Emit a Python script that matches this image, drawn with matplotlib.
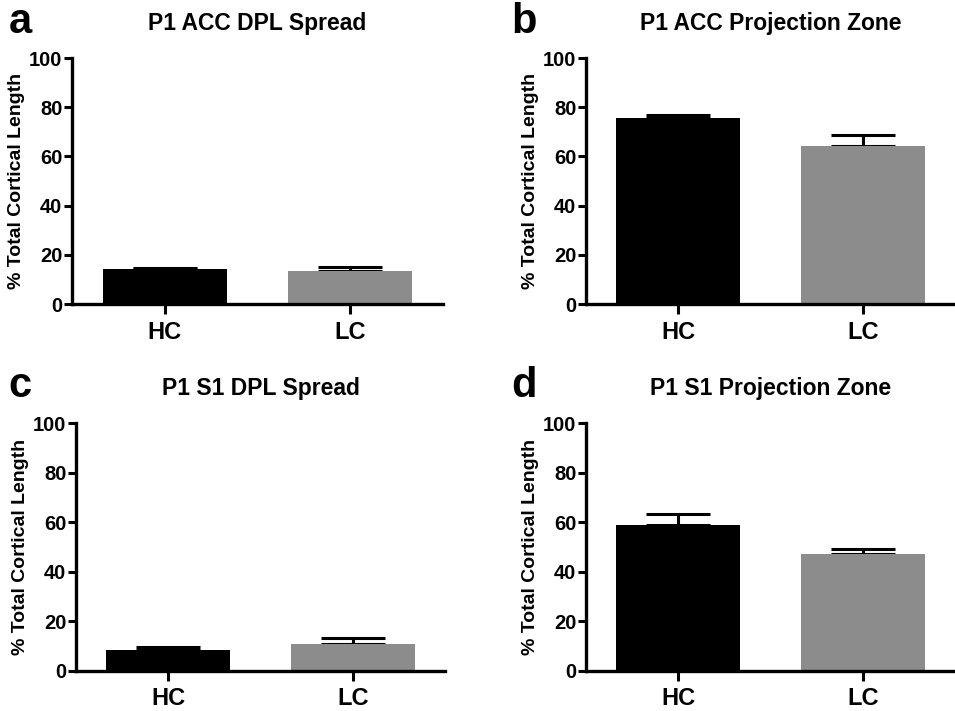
import matplotlib
matplotlib.use("Agg")
import matplotlib.pyplot as plt
import numpy as np

plt.rcParams['font.family'] = ['Liberation Sans', 'DejaVu Sans']
plt.rcParams['font.weight'] = 'bold'

groups = ['HC', 'LC']
titles = ['P1 ACC DPL Spread', 'P1 ACC Projection Zone',
          'P1 S1 DPL Spread', 'P1 S1 Projection Zone']
letters = ['a', 'b', 'c', 'd']
means = [[14.2, 13.5], [75.6, 64.1], [8.4, 10.8], [58.8, 47.2]]
sems = [[0.3, 1.7], [1.3, 4.8], [1.1, 2.3], [4.4, 2.1]]
bar_colors = ['black', '#8c8c8c']
ylabel = '% Total Cortical Length'

fig = plt.figure(figsize=(9.55, 7.11), dpi=100)
# axes positions in figure fraction [left, bottom, width, height]
boxes = [[0.0754, 0.5724, 0.3885, 0.3459],
         [0.6136, 0.5724, 0.3864, 0.3459],
         [0.0796, 0.0567, 0.3866, 0.3480],
         [0.6136, 0.0567, 0.3864, 0.3480]]
letter_pos = [(0.009, 0.9536), (0.535, 0.9536), (0.009, 0.4416), (0.535, 0.4416)]

for i in range(4):
    ax = fig.add_axes(boxes[i])
    x = np.arange(len(groups))
    ax.bar(x, means[i], width=0.67, color=bar_colors, zorder=2)
    for j in range(len(groups)):
        ax.errorbar(x[j], means[i][j], yerr=[[0], [sems[i][j]]], fmt='none',
                    ecolor='black', elinewidth=2.2, capsize=23, capthick=2.2, zorder=1)
    ax.set_xlim(-0.5, 1.5)
    ax.set_ylim(0, 100)
    ax.set_yticks([0, 20, 40, 60, 80, 100])
    ax.set_xticks(x)
    ax.set_xticklabels(groups, fontsize=17, fontweight='bold')
    for t in ax.get_yticklabels():
        t.set_fontsize(14.5)
        t.set_fontweight('bold')
    ax.tick_params(axis='both', direction='out', width=2.2, length=6, pad=1)
    ax.tick_params(axis='x', length=7, pad=5)
    for s in ['top', 'right']:
        ax.spines[s].set_visible(False)
    for s in ['left', 'bottom']:
        ax.spines[s].set_linewidth(2.4)
    ax.set_ylabel(ylabel, fontsize=14, fontweight='bold', labelpad=3)
    ax.set_title(titles[i], fontsize=16.5, fontweight='bold', pad=20)
    fig.text(letter_pos[i][0], letter_pos[i][1], letters[i], fontsize=30,
             fontweight='bold', va='baseline', ha='left')

fig.savefig('out.png', dpi=100)
